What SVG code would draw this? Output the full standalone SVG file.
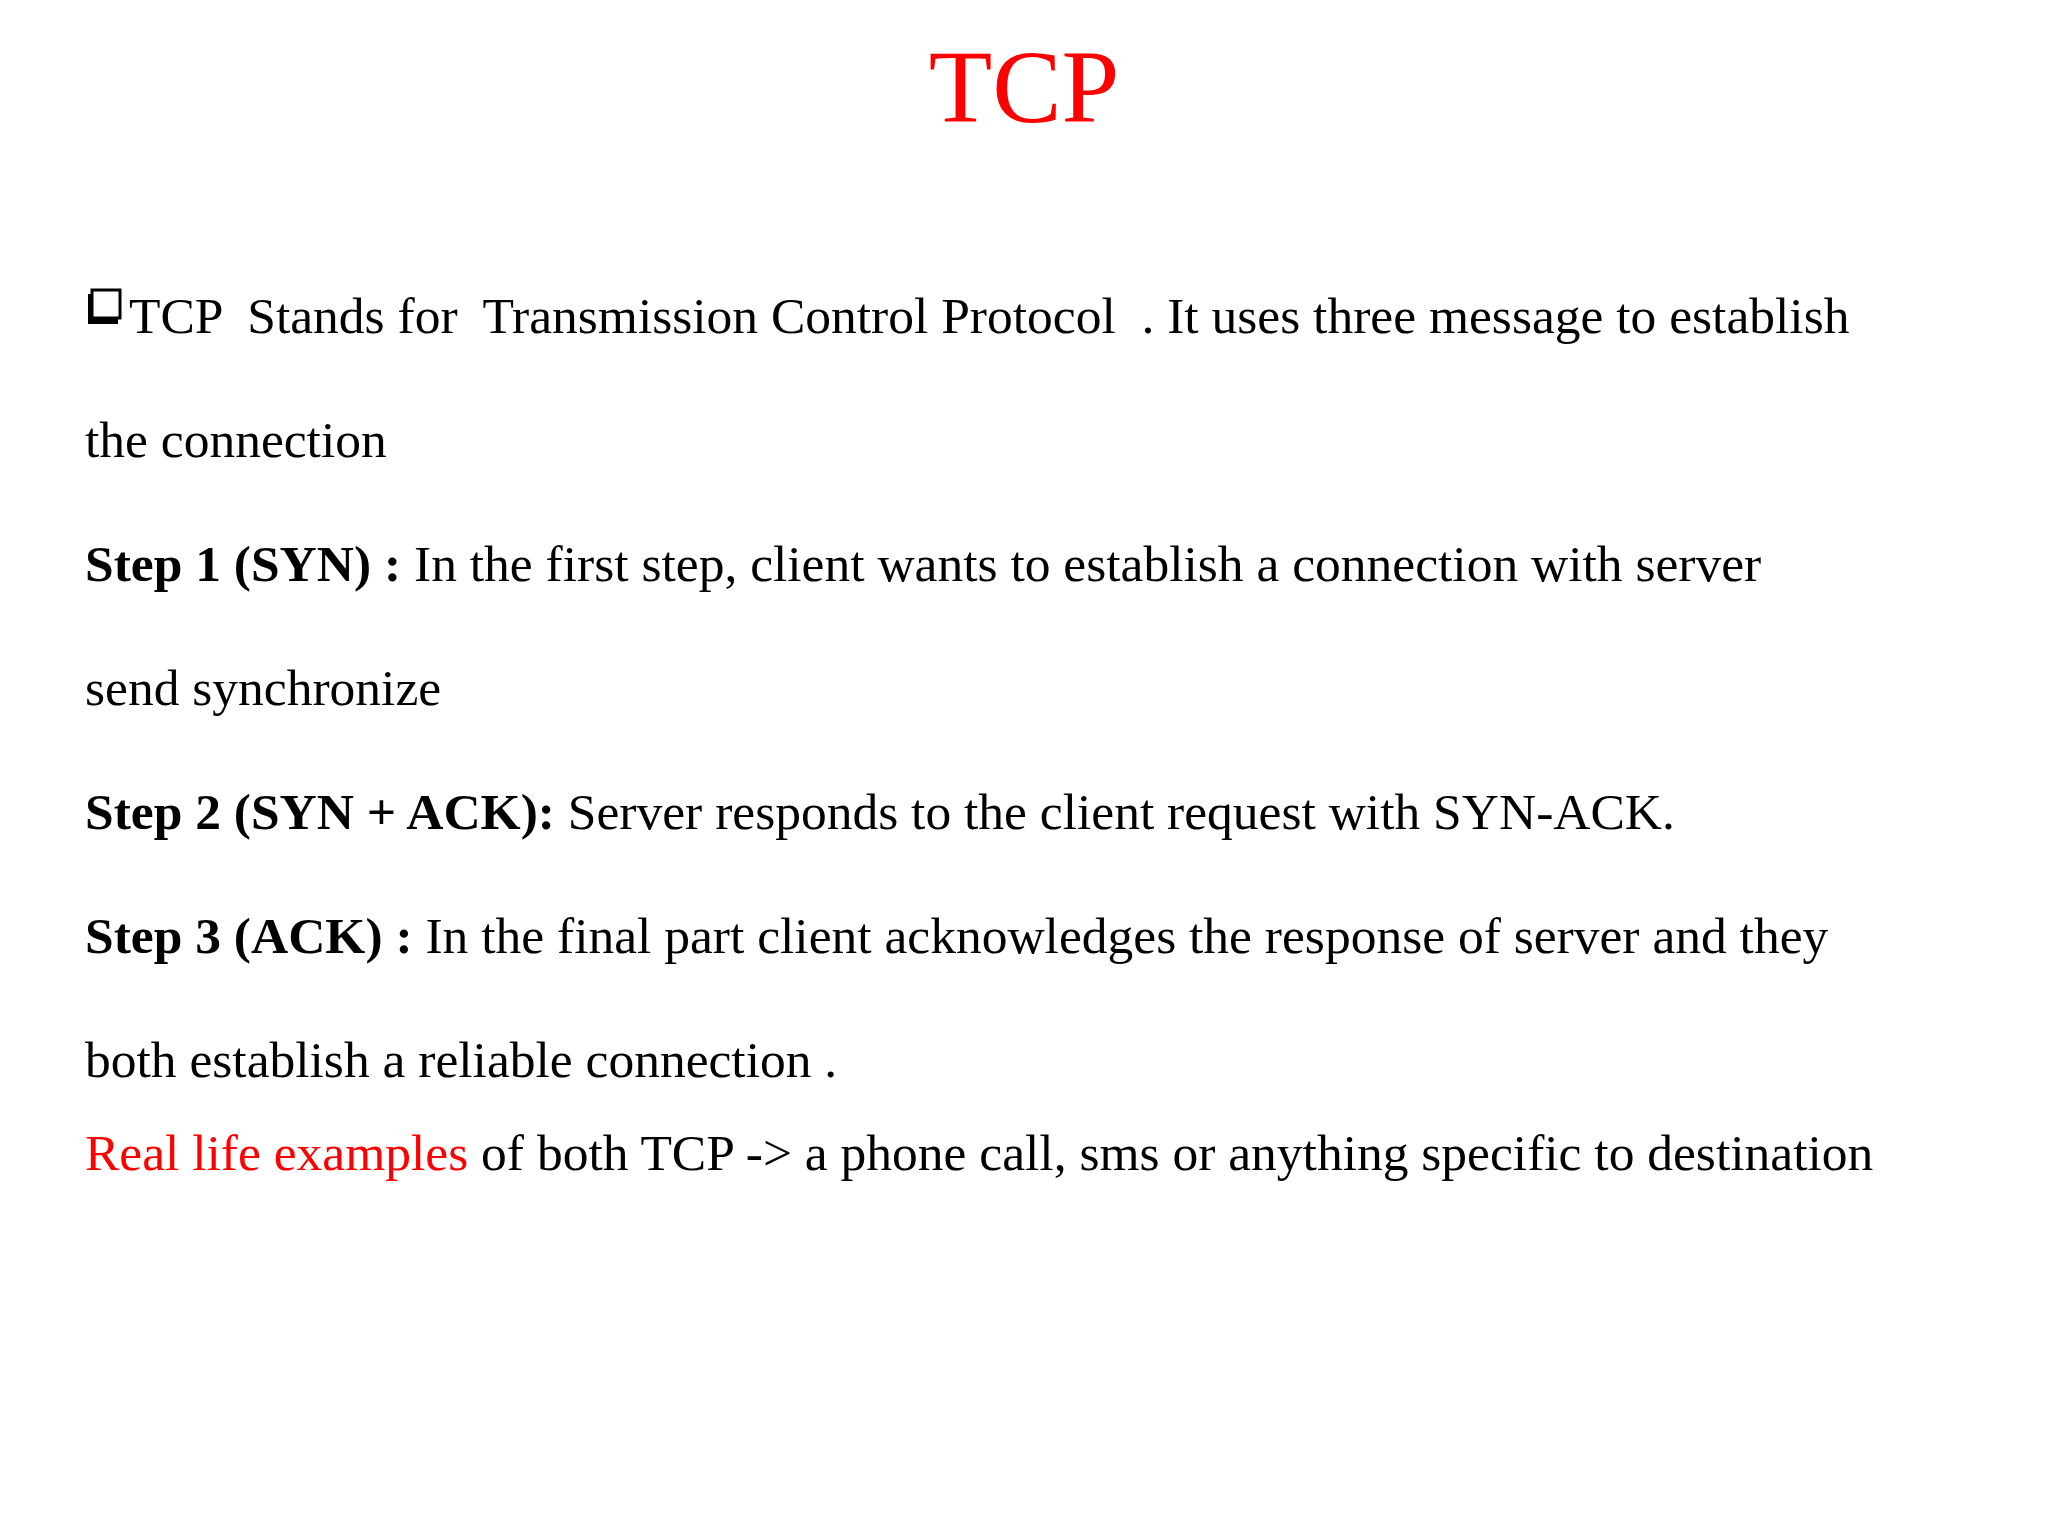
<svg xmlns="http://www.w3.org/2000/svg" width="2048" height="1536" viewBox="0 0 2048 1536">
<style>
text{font-family:"Liberation Serif","Times New Roman",serif;font-size:51.5px;fill:#000}
.b{font-weight:bold}
.r{fill:#ff0000}
</style>
<rect width="2048" height="1536" fill="#fff"/>
<text x="1024" y="122" text-anchor="middle" class="r" style="font-size:104px">TCP</text>
<g id="bullet">
<rect x="88" y="294" width="30" height="30" fill="#000"/>
<rect x="92" y="290" width="28" height="28" fill="#fff" stroke="#000" stroke-width="3"/>
</g>
<text x="129" y="333" xml:space="preserve">TCP  Stands for  Transmission Control Protocol  . It uses three message to establish</text>
<text x="85" y="457">the connection</text>
<text x="85" y="581"><tspan class="b">Step 1 (SYN) :</tspan> In the first step, client wants to establish a connection with server</text>
<text x="85" y="705">send synchronize</text>
<text x="85" y="829"><tspan class="b">Step 2 (SYN + ACK):</tspan> Server responds to the client request with SYN-ACK.</text>
<text x="85" y="953"><tspan class="b">Step 3 (ACK) :</tspan> In the final part client acknowledges the response of server and they</text>
<text x="85" y="1077">both establish a reliable connection .</text>
<text x="85" y="1170"><tspan class="r">Real life examples</tspan> of both TCP -&gt; a phone call, sms or anything specific to destination</text>
</svg>
